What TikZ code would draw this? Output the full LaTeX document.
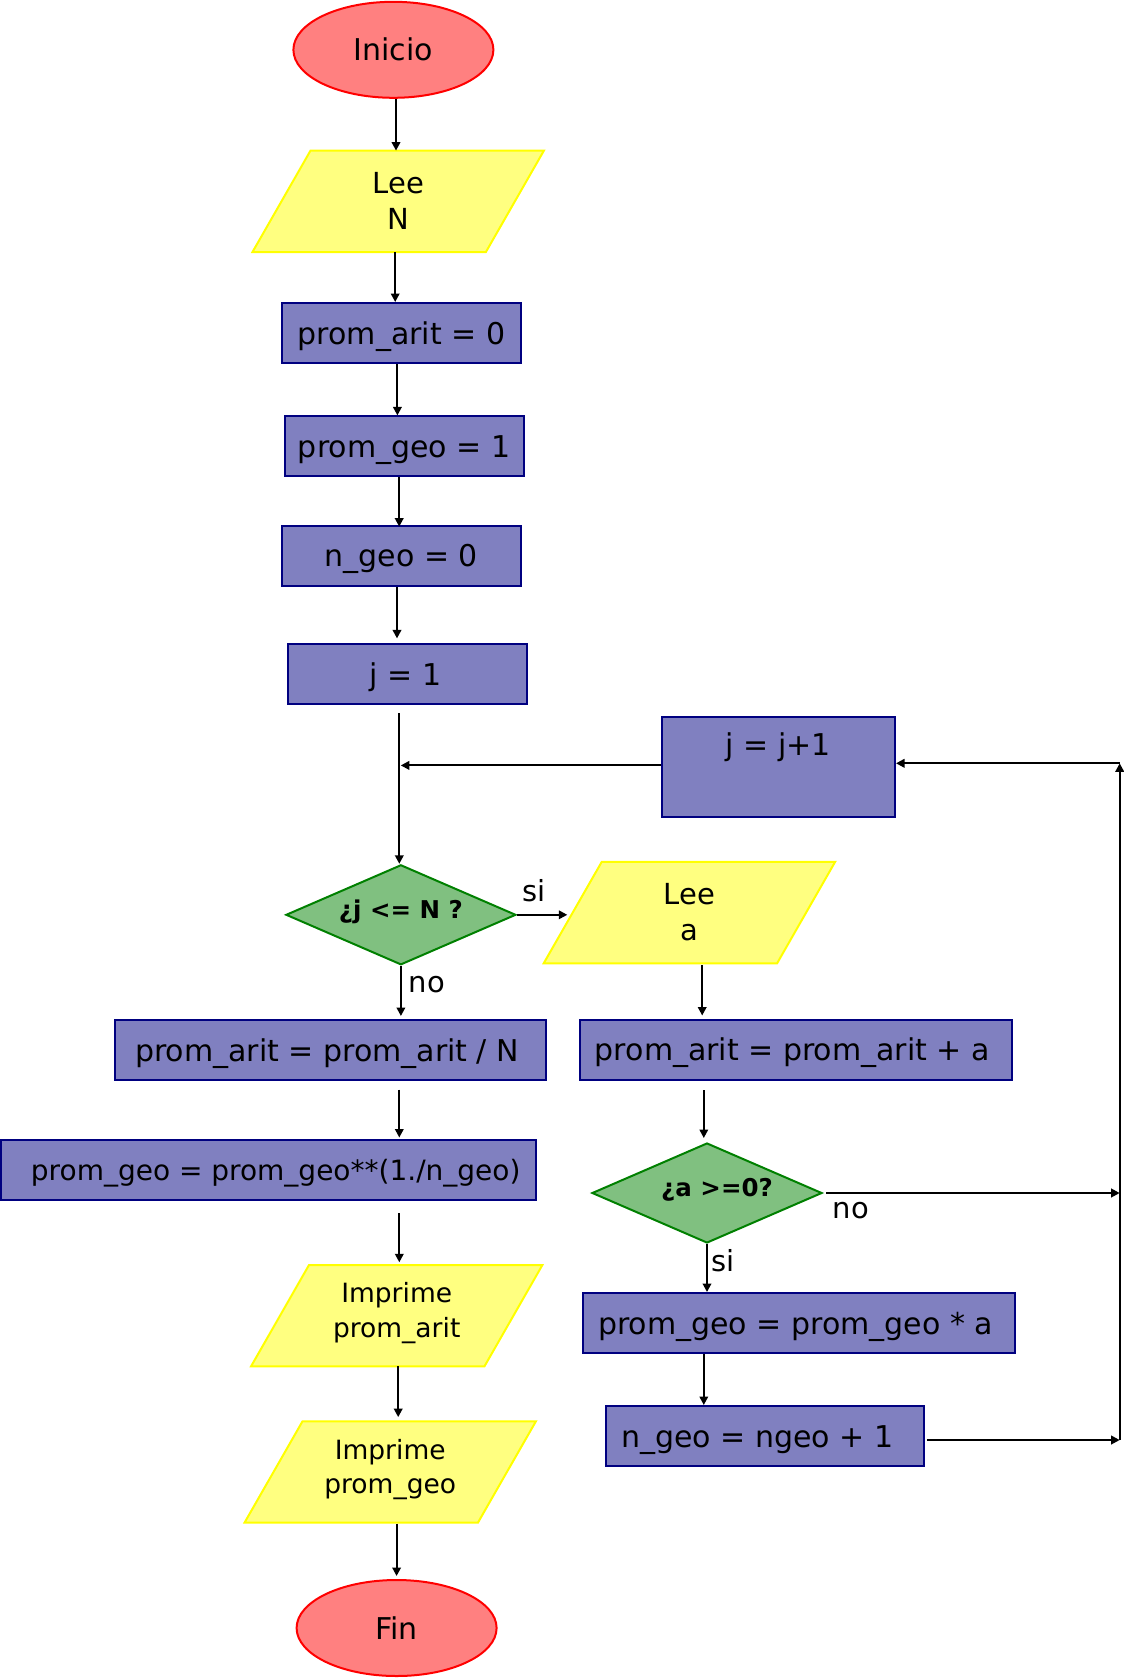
\documentclass[tikz,border=0pt]{standalone}
\usepackage{fontspec}
\setmainfont{DejaVu Sans}
\usetikzlibrary{shapes.geometric,arrows.meta,backgrounds}

\definecolor{termfill}{HTML}{FF8080}
\definecolor{termline}{HTML}{FF0000}
\definecolor{iofill}{HTML}{FFFF80}
\definecolor{ioline}{HTML}{FFFF00}
\definecolor{procfill}{HTML}{8080C0}
\definecolor{procline}{HTML}{000080}
\definecolor{decfill}{HTML}{80C080}
\definecolor{decline}{HTML}{008000}

% parallelogram drawn behind an input/output node (optional vertical offset)
\newcommand{\ioshape}[2][0pt]{%
  \draw[draw=ioline, fill=iofill, line width=2pt]
    ([xshift=58pt,yshift=#1]#2.north west) -- ([yshift=#1]#2.north east) --
    ([xshift=-58pt,yshift=#1]#2.south east) -- ([yshift=#1]#2.south west) -- cycle;}

\begin{document}
\begin{tikzpicture}[x=1pt,y=-1pt,
  every node/.style={font=\fontsize{30}{36}\selectfont, inner sep=0pt},
  terminal/.style={ellipse, draw=termline, fill=termfill, line width=2pt,
    minimum width=200pt, minimum height=96pt},
  boxshape/.style={rectangle, draw=procline, fill=procfill, line width=2pt},
  procbox/.style={boxshape, minimum height=60pt, text height=23pt, text depth=1pt},
  iobox/.style={rectangle, minimum width=291pt, minimum height=101pt, align=center,
    font=\fontsize{29}{36}\selectfont},
  printbox/.style={iobox, font=\fontsize{26.5}{34.4}\selectfont},
  decision/.style={diamond, aspect=2.3, draw=decline, fill=decfill, line width=2pt,
    minimum width=230pt, minimum height=100pt,
    font=\fontsize{24.5}{29}\selectfont\bfseries},
  flow/.style={line width=2pt, -{Triangle[length=8.5pt,width=8.5pt]}},
  tag/.style={font=\fontsize{29}{35}\selectfont},
]
\useasboundingbox (0,0) rectangle (1124,1678);

% main column
\node[terminal] (inicio) at (393.4,49.8) {Inicio};
\node[iobox] (leeN) at (398.2,201.3) {Lee\\N};
\node[procbox, minimum width=239.8pt] (pa0) at (401.4,333) {prom\_arit = 0};
\node[procbox, minimum width=238.7pt] (pg1) at (404.2,446.4) {prom\_geo = 1};
\node[procbox, minimum width=239.8pt] (ng0) at (401.4,555.6) {n\_geo = 0};
\node[procbox, minimum width=238.7pt] (j1) at (407.3,674.4) {j = 1\hspace*{4pt}};
\node[boxshape, minimum width=233.4pt, minimum height=99.6pt, align=center] (jj)
  at (778.3,767) {j = j+1\\ \strut};
\node[decision] (d1) at (400.9,914.8) {\raisebox{3pt}[\height][\depth]{¿j <= N ?}};
\node[iobox] (leea) at (689.4,912.6) {Lee\\a};
\node[procbox, minimum width=431.5pt] (paN) at (330.3,1050) {prom\_arit = prom\_arit / N\hspace*{6.5pt}};
\node[procbox, minimum width=431.4pt] (paa) at (795.9,1049.5) {prom\_arit = prom\_arit + a\hspace*{7pt}};
\node[procbox, minimum width=535.3pt, font=\fontsize{28}{34}\selectfont] (pgx) at (268.7,1169.5)
  {\hspace*{14pt}prom\_geo = prom\_geo**(1./n\_geo)};
\node[decision] (d2) at (707,1193) {\hspace*{20pt}\raisebox{3pt}[\height][\depth]{¿a >=0?}};
\node[procbox, minimum width=431.4pt] (pga) at (799.1,1323) {prom\_geo = prom\_geo * a\hspace*{7pt}};
\node[procbox, minimum width=317.8pt] (ngp) at (764.9,1436) {n\_geo = ngeo + 1\hspace*{15pt}};
\node[printbox] (impA) at (396.7,1313) {Imprime\\prom\_arit};
\node[printbox] (impG) at (390.2,1469.3) {Imprime\\prom\_geo};
\node[terminal] (fin) at (396.6,1628) {Fin};

\begin{scope}[on background layer]
  \ioshape{leeN}
  \ioshape{leea}
  \ioshape[-2.7pt]{impA}
  \ioshape[-2.7pt]{impG}
\end{scope}

% guide for the main vertical flow line and the return rail on the right
\coordinate (mainx) at (399.3,0);
\coordinate (sidex) at (703.8,0);
\coordinate (rtop) at (1119.7,763.3);
\coordinate (rbot) at (1119.7,1440);
\coordinate (c1) at ([xshift=12.8pt]leea.south);

% connectors
\draw[flow] ([xshift=2.6pt]inicio.south) -- ([xshift=2.6pt]inicio.south |- leeN.north);
\draw[flow] ([xshift=-3pt]leeN.south) -- ([xshift=-3pt]leeN.south |- pa0.north);
\draw[flow] ([xshift=-4pt]pa0.south) -- ([xshift=-4pt]pa0.south |- pg1.north);
\draw[flow, shorten >=-2pt] ([xshift=-5pt]pg1.south) -- ([xshift=-5pt]pg1.south |- ng0.north);
\draw[flow, shorten >=5pt] ([xshift=-4.4pt]ng0.south) -- ([xshift=-4.4pt]ng0.south |- j1.north);
\draw[flow, shorten <=8pt] (mainx |- j1.south) -- (mainx |- d1.north);
\draw[flow, shorten >=1.5pt] ([yshift=1.6pt]jj.west) -- ([yshift=1.6pt]jj.west -| mainx);
\draw[flow, shorten >=-23.6pt] (d1.east) -- (d1.east -| leea.west);
\draw[flow, shorten >=3pt] (d1.south) -- (d1.south |- paN.north);
\draw[flow, shorten <=2pt, shorten >=3pt] (c1) -- (c1 |- paa.north);
\draw[flow, shorten <=8.7pt, shorten >=1pt] (mainx |- paN.south) -- (mainx |- pgx.north);
\draw[flow, shorten <=9.7pt, shorten >=4pt] (sidex |- paa.south) -- (sidex |- d2.north);
\draw[flow, shorten <=12.8pt] (mainx |- pgx.south) -- (mainx |- impA.north);
\draw[flow] (d2.south) -- (d2.south |- pga.north);
\draw[flow, shorten <=3pt] (d2.east) -- (d2.east -| rtop);
\draw[flow] (sidex |- pga.south) -- (sidex |- ngp.north);
\draw[flow, shorten <=2pt] (ngp.east |- rbot) -- (rbot);
\draw[flow] (rbot) -- (rtop);
\draw[flow] (rtop) -- (rtop -| jj.east);
\draw[flow, shorten <=2.7pt, shorten >=1.5pt] ([xshift=1.5pt]impA.south) -- ([xshift=1.5pt]impA.south |- impG.north);
\draw[flow, shorten <=3.5pt, shorten >=3pt] (fin.north |- impG.south) -- (fin.north);

% branch labels
\node[tag] (siA) at (534,890.7) {si};
\node[tag] (noA) at (427,985) {no};
\node[tag] (noB) at (851,1210.7) {no};
\node[tag] (siB) at (722.6,1261) {si};
\end{tikzpicture}
\end{document}
